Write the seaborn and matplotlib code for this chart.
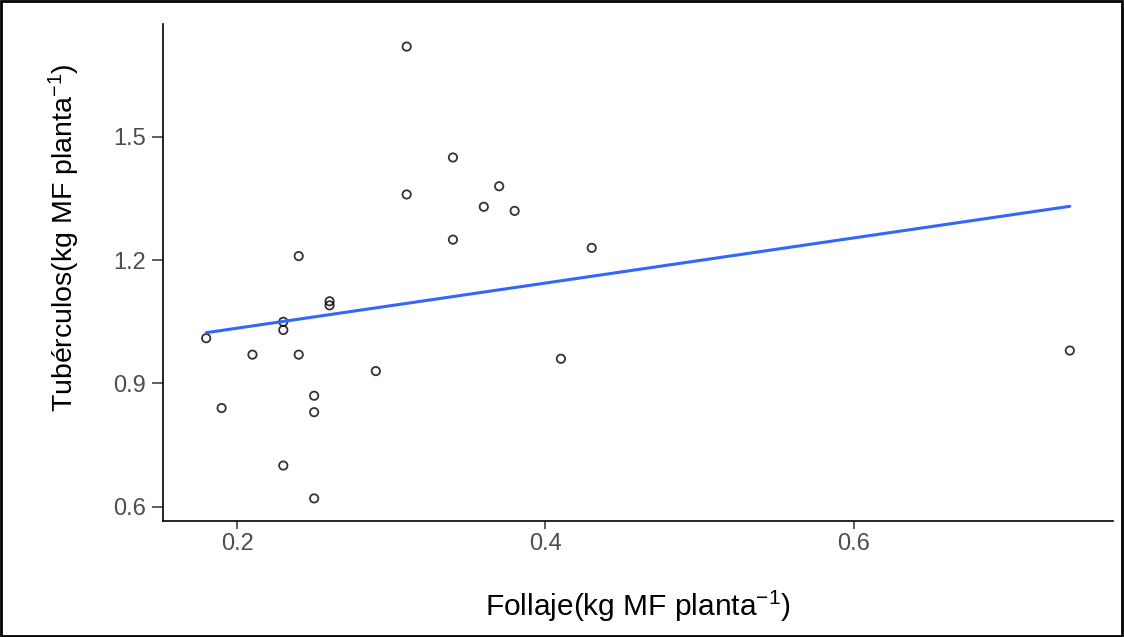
import matplotlib
matplotlib.use("Agg")
import matplotlib.pyplot as plt
import seaborn as sns
import pandas as pd
from matplotlib.patches import Rectangle

follaje = [0.31, 0.34, 0.31, 0.37, 0.36, 0.38, 0.34, 0.43, 0.24, 0.26, 0.26, 0.23,
           0.23, 0.18, 0.21, 0.24, 0.29, 0.41, 0.25, 0.19, 0.25, 0.23, 0.25, 0.74]
tuberculos = [1.72, 1.45, 1.36, 1.38, 1.33, 1.32, 1.25, 1.23, 1.21, 1.10, 1.09, 1.05,
              1.03, 1.01, 0.97, 0.97, 0.93, 0.96, 0.87, 0.84, 0.83, 0.70, 0.62, 0.98]
x_ticks = [0.2, 0.4, 0.6]
y_ticks = [0.6, 0.9, 1.2, 1.5]
x_label = "Follaje(kg MF planta$^{-1}$)"
y_label = "Tubérculos(kg MF planta$^{-1}$)"

df = pd.DataFrame({"x": follaje, "y": tuberculos})

sns.set_theme(style="ticks")
plt.rcParams["font.family"] = ["Liberation Sans", "DejaVu Sans"]
plt.rcParams["mathtext.fontset"] = "custom"
plt.rcParams["mathtext.rm"] = "Liberation Sans"
plt.rcParams["mathtext.it"] = "Liberation Sans"

fig = plt.figure(figsize=(11.24, 6.37), dpi=100)
ax = fig.add_axes([163 / 1124, 1 - 521 / 637, (1113 - 163) / 1124, (521 - 24) / 637])

sns.regplot(data=df, x="x", y="y", ax=ax, ci=None, truncate=True,
            scatter_kws=dict(s=36, facecolors="none", edgecolors="black", linewidths=1.3),
            line_kws=dict(color="#3366FF", linewidth=2.2))

xr = max(follaje) - min(follaje)
yr = max(tuberculos) - min(tuberculos)
ax.set_xlim(min(follaje) - 0.05 * xr, max(follaje) + 0.05 * xr)
ax.set_ylim(min(tuberculos) - 0.05 * yr, max(tuberculos) + 0.05 * yr)
ax.set_xticks(x_ticks)
ax.set_yticks(y_ticks)
ax.set_xticklabels([f"{v:.1f}" for v in x_ticks])
ax.set_yticklabels([f"{v:.1f}" for v in y_ticks])
ax.tick_params(axis="both", labelsize=17, labelcolor="#4d4d4d", color="#333333", width=1.1)
ax.tick_params(axis="x", length=6, pad=3)
ax.tick_params(axis="y", length=8, pad=4.5)
for s in ["top", "right"]:
    ax.spines[s].set_visible(False)
for s in ["left", "bottom"]:
    ax.spines[s].set_color("black")
    ax.spines[s].set_linewidth(1.2)
ax.set_xlabel(x_label, fontsize=21.5, labelpad=24, color="black")
ax.set_ylabel(y_label, fontsize=20.5, labelpad=22, color="black")
ax.yaxis.label.set_y(0.57)

fig.patches.append(Rectangle((0.001, 0.002), 0.997, 0.996, transform=fig.transFigure,
                             fill=False, edgecolor="black", linewidth=2))

fig.savefig("out.png", dpi=100)
